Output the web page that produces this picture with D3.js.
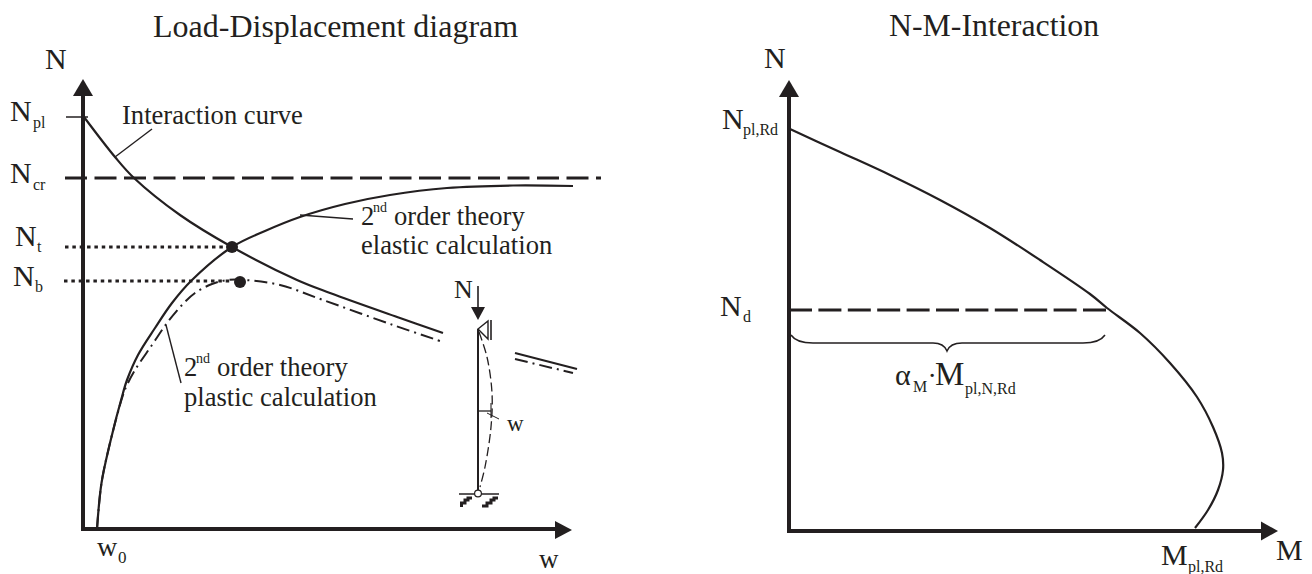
<!DOCTYPE html>
<html><head><meta charset="utf-8">
<style>html,body{margin:0;padding:0;background:#fff}svg{display:block}text{font-family:"Liberation Serif",serif;fill:#231f20}</style>
<script src="https://cdnjs.cloudflare.com/ajax/libs/d3/7.8.5/d3.min.js"></script>
</head><body><svg id="c" width="1312" height="574"></svg>
<script>
// Left diagram: [w, N] in arbitrary units
const interactionA=[[1,412],[32,372],[51,351],[97,314],[149,282],[214,249],[247,236],[317,211],[360,196]];
const interactionB=[[432,176],[494,160]];
const elastic=[[14,0],[18.5,46],[27,86],[40,136],[44,149],[55,174],[72,201],[89,226],[109,249],[149,282],[182,298],[217,312],[262,325],[307,334],[364,341],[430,343.5],[490,343]];
const plasticA=[[14,0],[18.5,46],[27,86],[40,134],[44,144],[52,159],[69,184],[84,206],[99,224],[112,236],[129,245],[145,249],[162,249],[197,244],[240,229],[310,204],[360,187]];
const plasticB=[[432,170],[490,156]];
const markers=[[149,282],[157,247]];
const Npl=412,Ncr=351,Nt=282,Nb=248;
// Right diagram: [M, N]
const nmCurve=[[1,402],[51,379],[101,356],[151,331],[201,303],[251,271],[301,237],[318,223],[351,198],[381,168],[408,134],[424,104],[433,78],[434,61],[429,41],[419,21],[406,3]];
const Nd=221;

const ink="#231f20";
const svg=d3.select("#c");
const wX=d3.scaleLinear().domain([0,489]).range([83,572]);
const wY=d3.scaleLinear().domain([0,450]).range([529,79]);
const mX=d3.scaleLinear().domain([0,489]).range([789,1278]);
const mY=d3.scaleLinear().domain([0,451]).range([531,80]);
const curve=(x,y)=>d3.line().x(d=>x(d[0])).y(d=>y(d[1])).curve(d3.curveCatmullRom.alpha(0.5));
const L=curve(wX,wY),R=curve(mX,mY);
function path(d,w,dash){const p=svg.append("path").attr("d",d).attr("fill","none").attr("stroke",ink).attr("stroke-width",w);if(dash)p.attr("stroke-dasharray",dash);return p;}
function seg(x1,y1,x2,y2,w,dash){return path(`M${x1},${y1}L${x2},${y2}`,w,dash);}
function tri(pts){svg.append("polygon").attr("points",pts.join(" ")).attr("fill",ink);}
function t(x,y,s,size,anchor){svg.append("text").attr("x",x).attr("y",y).attr("font-size",size).attr("text-anchor",anchor||"start").text(s);}

// left axes
seg(83,529,83,95,4); tri([[83,79],[73,96],[93,96]]);
seg(81,529,556,529,4); tri([[572,530],[555,521],[555,539]]);
// right axes
seg(789,533,789,95,4); tri([[789,80],[779,97],[799,97]]);
seg(787,531,1262,531,4); tri([[1278,531],[1261,521.5],[1261,540.5]]);

// reference lines
seg(65,wY(Ncr),601,wY(Ncr),3,"22 7.5");
seg(65,wY(Nt),226,wY(Nt),3,"3.5 3.85");
seg(64,wY(Nb),232,wY(Nb),3,"3.5 3.85");
seg(66,wY(Npl),88,wY(Npl),1.5);
seg(789,mY(Nd),1106,mY(Nd),3,"23 6.4");

// curves
path(L(interactionA),2.2); path(L(interactionB),2.2);
path(L(elastic),2.2);
path(L(plasticA),2,"13 5 2 5"); path(L(plasticB),2,"13 5 2 5");
path(R(nmCurve),2.2);
markers.forEach(m=>svg.append("circle").attr("cx",wX(m[0])).attr("cy",wY(m[1])).attr("r",6).attr("fill",ink));

// leaders
seg(115,157,152,129,1.4); seg(300,215,353,219,1.4); seg(166,325,181,383,1.4);

// column sketch
seg(478,329,478,490,2);
path("M478,329L488,321V339Z",1.4);
seg(491,320,491,340,1.6);
path(d3.line().curve(d3.curveCatmullRom)([[479,332],[487,357],[492,393],[491,427],[485,467],[480,487]]),1.3,"9 4");
seg(478,411,491,411,1.3); seg(491,403,491,418,1.1); seg(487,413,499,419,1);
seg(459,494,499,494,1.4);
svg.append("circle").attr("cx",478).attr("cy",493.5).attr("r",3.4).attr("fill","#fff").attr("stroke",ink).attr("stroke-width",1.2);
path("M461.5,507V503H465V500H468V498H472",3);
path("M482,506H487V503H491V500H494V498H498",3);
seg(478,286,478,308,1.6); tri([[478,320],[471,307],[485,307]]);

// brace
path("M791,335C795,341 803,343 813,343H933C941,343 945,346 947,351C949,346 953,343 962,343H1083C1094,343 1101,341 1105,335",1.5);

// titles
t(153,37,"Load-Displacement diagram",32);
t(889,36,"N-M-Interaction",31.8);

// left labels
t(45,69,"N",30);
t(10,121,"N",30); t(33,128,"pl",16);
t(10,183,"N",30); t(33,190,"cr",16);
t(15,246,"N",30); t(37,252,"t",16);
t(13,286,"N",30); t(35,292,"b",16);
t(122,124,"Interaction curve",26.6);
t(361,225,"2",26.6); t(373,212,"nd",14); t(394,225,"order theory",26.6);
t(361,254,"elastic calculation",26.6);
t(184,376,"2",26.6); t(196,363,"nd",14); t(217,376,"order theory",26.6);
t(184,406,"plastic calculation",26.6);
t(97,556,"w",28); t(118,563,"0",17);
t(539,568,"w",27);
t(454,298,"N",26);
t(507,431,"w",23);

// right labels
t(764,68,"N",30);
t(722,129,"N",30); t(743,135,"pl,Rd",16);
t(720,316,"N",30); t(743,322,"d",16);
t(895,385,"α",30); t(913,392,"M",16); t(927.5,385,"·",28); t(935,385,"M",33); t(965,394,"pl,N,Rd",16);
t(1161,565,"M",30); t(1188,572,"pl,Rd",16);
t(1276,560,"M",30);
</script></body></html>
